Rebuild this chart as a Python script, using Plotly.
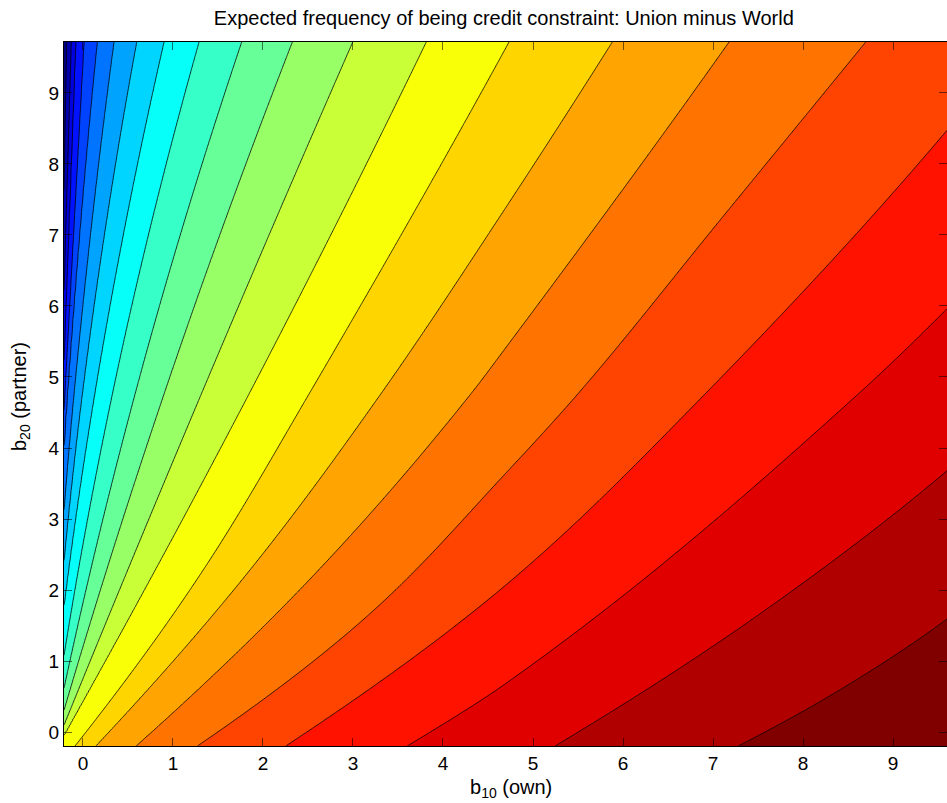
import numpy as np
import plotly.graph_objects as go

# ---- data -----------------------------------------------------------------
# Each contour line (21 lines, index 0..20 from the blue side to the dark-red side)
# traced as points (b10 own, b20 partner).
line_b10 = [
    [-0.211, -0.181],
    [-0.211, -0.130],
    [-0.211, -0.081],
    [-0.211, 0.011],
    [-0.211, -0.174, 0.159],
    [-0.211, -0.100, 0.344],
    [-0.211, -0.008, 0.597],
    [-0.211, 0.130, 0.900],
    [-0.211, 0.326, 1.289],
    [-0.211, 0.578, 1.763],
    [-0.211, 0.900, 2.326],
    [-0.211, 1.314, 2.997],
    [-0.211, 1.844, 3.814],
    [-0.089, 1.336, 2.511, 4.733],
    [0.141, 1.854, 3.308, 4.689, 5.881],
    [0.589, 2.617, 4.308, 4.689, 7.178],
    [1.270, 3.233, 4.689, 5.497, 7.097, 8.697],
    [2.252, 4.689, 6.911, 9.600],
    [3.603, 4.689, 8.614, 9.600],
    [5.244, 7.422, 9.600],
    [7.281, 8.444, 9.600],
]
line_b20 = [
    [7.634, 9.718],
    [6.225, 9.718],
    [5.239, 9.718],
    [4.535, 9.718],
    [4.040, 4.761, 9.718],
    [3.130, 4.761, 9.718],
    [2.420, 4.761, 9.718],
    [1.790, 4.761, 9.718],
    [1.080, 4.761, 9.718],
    [0.620, 4.761, 9.718],
    [0.310, 4.761, 9.718],
    [0.100, 4.761, 9.718],
    [-0.040, 4.761, 9.718],
    [-0.197, 2.282, 4.761, 9.718],
    [-0.197, 2.282, 4.761, 7.370, 9.718],
    [-0.197, 2.282, 4.761, 5.399, 9.718],
    [-0.197, 1.718, 3.634, 4.761, 7.239, 9.718],
    [-0.197, 2.061, 4.761, 8.475],
    [-0.197, 0.676, 4.761, 5.962],
    [-0.197, 1.577, 3.680],
    [-0.197, 0.620, 1.592],
]
levels = list(range(1, 22))          # contour level of each traced line
x_ticks = list(range(0, 10))
y_ticks = list(range(0, 10))
x_range = [-0.211, 9.6]
y_range = [-0.197, 9.718]

title = "Expected frequency of being credit constraint: Union minus World"
x_title = "b<sub>10</sub> (own)"
y_title = "b<sub>20</sub> (partner)"

# ---- build the field from the traced lines ---------------------------------
def pchip(xp, fp, xq):
    xp = np.asarray(xp, float); fp = np.asarray(fp, float); xq = np.asarray(xq, float)
    n = len(xp)
    h = np.diff(xp); dl = np.diff(fp) / h
    d = np.zeros(n)
    if n == 2:
        d[:] = dl[0]
    else:
        for k in range(1, n - 1):
            if dl[k - 1] * dl[k] <= 0:
                d[k] = 0.0
            else:
                w1 = 2 * h[k] + h[k - 1]; w2 = h[k] + 2 * h[k - 1]
                d[k] = (w1 + w2) / (w1 / dl[k - 1] + w2 / dl[k])
        d[0] = ((2 * h[0] + h[1]) * dl[0] - h[0] * dl[1]) / (h[0] + h[1])
        if d[0] * dl[0] <= 0: d[0] = 0.0
        d[-1] = ((2 * h[-1] + h[-2]) * dl[-1] - h[-1] * dl[-2]) / (h[-1] + h[-2])
        if d[-1] * dl[-1] <= 0: d[-1] = 0.0
    out = np.empty_like(xq)
    lo = xq < xp[0]; hi = xq > xp[-1]; mid = ~(lo | hi)
    out[lo] = fp[0] + (xq[lo] - xp[0]) * d[0]
    out[hi] = fp[-1] + (xq[hi] - xp[-1]) * d[-1]
    xm = xq[mid]
    idx = np.clip(np.searchsorted(xp, xm) - 1, 0, n - 2)
    t = (xm - xp[idx]) / h[idx]
    h00 = 2 * t**3 - 3 * t**2 + 1; h10 = t**3 - 2 * t**2 + t
    h01 = -2 * t**3 + 3 * t**2; h11 = t**3 - t**2
    out[mid] = (h00 * fp[idx] + h10 * h[idx] * d[idx] + h01 * fp[idx + 1]
                + h11 * h[idx] * d[idx + 1])
    return out

def lin_extrap(xq, xp, fp):
    xp = np.asarray(xp, float); fp = np.asarray(fp, float)
    out = np.interp(xq, xp, fp)
    s0 = (fp[1] - fp[0]) / (xp[1] - xp[0]); s1 = (fp[-1] - fp[-2]) / (xp[-1] - xp[-2])
    out = np.where(xq < xp[0], fp[0] + (xq - xp[0]) * s0, out)
    out = np.where(xq > xp[-1], fp[-1] + (xq - xp[-1]) * s1, out)
    return out

xg = np.linspace(x_range[0], x_range[1], 500)
yg = np.linspace(y_range[0], y_range[1], 500)
G = np.array([pchip(line_b20[k], line_b10[k], yg) for k in range(len(levels))])
Z = np.empty((len(yg), len(xg)))
for i in range(len(yg)):
    g = np.maximum.accumulate(G[:, i] + np.arange(len(levels)) * 1e-6)
    Z[i] = lin_extrap(xg, g, levels)

jet = [[0.0, "rgb(0,0,128)"], [0.125, "rgb(0,0,255)"], [0.375, "rgb(0,255,255)"],
       [0.625, "rgb(255,255,0)"], [0.875, "rgb(255,0,0)"], [1.0, "rgb(128,0,0)"]]

fig = go.Figure(go.Contour(
    x=xg, y=yg, z=Z,
    contours=dict(start=levels[0], end=levels[-1], size=1, coloring="fill"),
    line=dict(color="black", width=0.8, smoothing=1),
    colorscale=jet, showscale=False, hoverinfo="skip",
))

font = "Liberation Sans, Arial, Helvetica, sans-serif"
axis_common = dict(ticks="inside", ticklen=8, tickwidth=1, tickcolor="rgba(0,0,0,0.55)",
                   showline=True, linecolor="black", linewidth=1, mirror="ticks",
                   showgrid=False, zeroline=False,
                   tickfont=dict(family=font, size=19, color="black"))
fig.update_layout(
    width=947, height=803,
    margin=dict(l=64, r=0, t=42, b=57),
    paper_bgcolor="white", plot_bgcolor="white",
    title=dict(text=title, x=0.532, xanchor="center", y=0.978, yanchor="middle",
               font=dict(family=font, size=20, color="black")),
    xaxis=dict(range=x_range, tickvals=x_ticks, **axis_common),
    yaxis=dict(range=y_range, tickvals=y_ticks, **axis_common),
    annotations=[
        dict(text=x_title, xref="paper", yref="paper", x=(511 - 64) / 883, y=-(788 - 746) / 704,
             xanchor="center", yanchor="middle", showarrow=False,
             font=dict(family=font, size=20, color="black")),
        dict(text=y_title, xref="paper", yref="paper", x=-(64 - 20) / 883, y=(746 - 397) / 704,
             xanchor="center", yanchor="middle", showarrow=False, textangle=-90,
             font=dict(family=font, size=20, color="black")),
    ],
)
fig.write_html("out.html")
